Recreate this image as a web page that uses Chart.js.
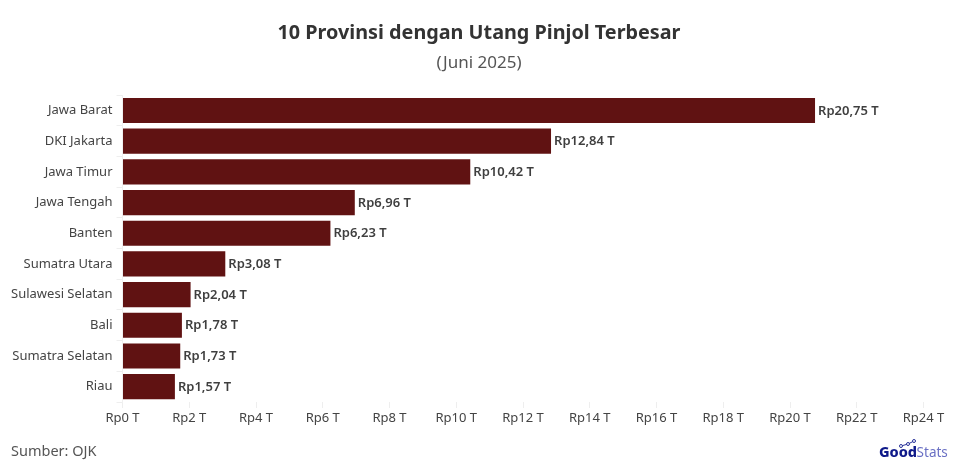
<!DOCTYPE html>
<html>
<head>
<meta charset="utf-8">
<style>
  html, body { margin: 0; padding: 0; background: #fff; }
  #wrap { width: 958px; height: 472px; }
</style>
<script src="https://cdn.jsdelivr.net/npm/chart.js@4"></script>
</head>
<body>
<div id="wrap"><canvas id="pinjolChart" width="958" height="472"></canvas></div>
<script>
const provinces = ["Jawa Barat", "DKI Jakarta", "Jawa Timur", "Jawa Tengah", "Banten",
    "Sumatra Utara", "Sulawesi Selatan", "Bali", "Sumatra Selatan", "Riau"];
const debtValues = [20.75, 12.84, 10.42, 6.96, 6.23, 3.08, 2.04, 1.78, 1.73, 1.57];
const debtLabels = ["Rp20,75 T", "Rp12,84 T", "Rp10,42 T", "Rp6,96 T", "Rp6,23 T",
    "Rp3,08 T", "Rp2,04 T", "Rp1,78 T", "Rp1,73 T", "Rp1,57 T"];

const fontName = "'Noto Sans', sans-serif";

// value labels next to the bars
const barLabels = {
    id: "barLabels",
    afterDatasetsDraw(chart) {
        const ctx = chart.ctx;
        ctx.save();
        ctx.font = "600 13px " + fontName;
        ctx.fillStyle = "#3f3f3f";
        ctx.textAlign = "left";
        ctx.textBaseline = "middle";
        chart.getDatasetMeta(0).data.forEach((bar, i) => {
            ctx.fillText(debtLabels[i], bar.x + 3, bar.y + 0.5);
        });
        ctx.restore();
    }
};

// source line and logo in the footer
const footer = {
    id: "footer",
    afterDraw(chart) {
        const ctx = chart.ctx;
        ctx.save();
        ctx.textBaseline = "alphabetic";
        ctx.textAlign = "left";
        ctx.font = "14.5px " + fontName;
        ctx.fillStyle = "#555";
        ctx.fillText("Sumber: OJK", 11, 456);

        ctx.font = "800 14.5px " + fontName;
        ctx.fillStyle = "#0f1a8a";
        ctx.fillText("Good", 879, 457);
        const w = ctx.measureText("Good").width;
        ctx.font = "400 13.5px " + fontName;
        ctx.fillStyle = "#6a70c4";
        ctx.fillText("Stats", 879 + w - 0.5, 457);

        const dots = [[901, 446], [908, 444], [914, 441]];
        ctx.strokeStyle = "#2a3399";
        ctx.lineWidth = 1;
        ctx.beginPath();
        dots.forEach((p, i) => i ? ctx.lineTo(p[0], p[1]) : ctx.moveTo(p[0], p[1]));
        ctx.stroke();
        dots.forEach(p => {
            ctx.beginPath();
            ctx.arc(p[0], p[1], 1.5, 0, Math.PI * 2);
            ctx.fillStyle = "#fff";
            ctx.fill();
            ctx.stroke();
        });
        ctx.restore();
    }
};

new Chart(document.getElementById("pinjolChart").getContext("2d"), {
    type: "bar",
    data: {
        labels: provinces,
        datasets: [{
            label: "Utang Pinjol",
            data: debtValues,
            backgroundColor: "#601212",
            barPercentage: 0.82,
            categoryPercentage: 1
        }]
    },
    options: {
        indexAxis: "y",
        responsive: false,
        animation: false,
        layout: { padding: { top: 21, right: 0, left: 0, bottom: 0 } },
        scales: {
            x: {
                min: 0,
                max: 24,
                afterFit(scale) {
                    scale.height = 70;
                    scale.paddingRight = 34.5;
                },
                border: { display: false },
                grid: { drawOnChartArea: false, color: "#eeeeee", tickLength: 6 },
                ticks: {
                    stepSize: 2,
                    maxRotation: 0,
                    padding: 2,
                    color: "#444",
                    font: { family: fontName, size: 13 },
                    callback: value => "Rp" + value + " T"
                }
            },
            y: {
                afterFit(scale) { scale.width = 122.5; },
                border: { color: "#f0f0f0" },
                grid: { drawOnChartArea: false, color: "#eeeeee", tickLength: 6 },
                ticks: {
                    padding: 4,
                    color: "#444",
                    font: { family: fontName, size: 13 }
                }
            }
        },
        plugins: {
            legend: { display: false },
            tooltip: { enabled: false },
            title: {
                display: true,
                text: "10 Provinsi dengan Utang Pinjol Terbesar",
                color: "#333",
                font: { family: fontName, size: 19.8, weight: "700" },
                padding: { top: 0, bottom: 8 }
            },
            subtitle: {
                display: true,
                text: "(Juni 2025)",
                color: "#555",
                font: { family: fontName, size: 17, weight: "400" },
                padding: { top: 0, bottom: 22 }
            }
        }
    },
    plugins: [barLabels, footer]
});
</script>
</body>
</html>
